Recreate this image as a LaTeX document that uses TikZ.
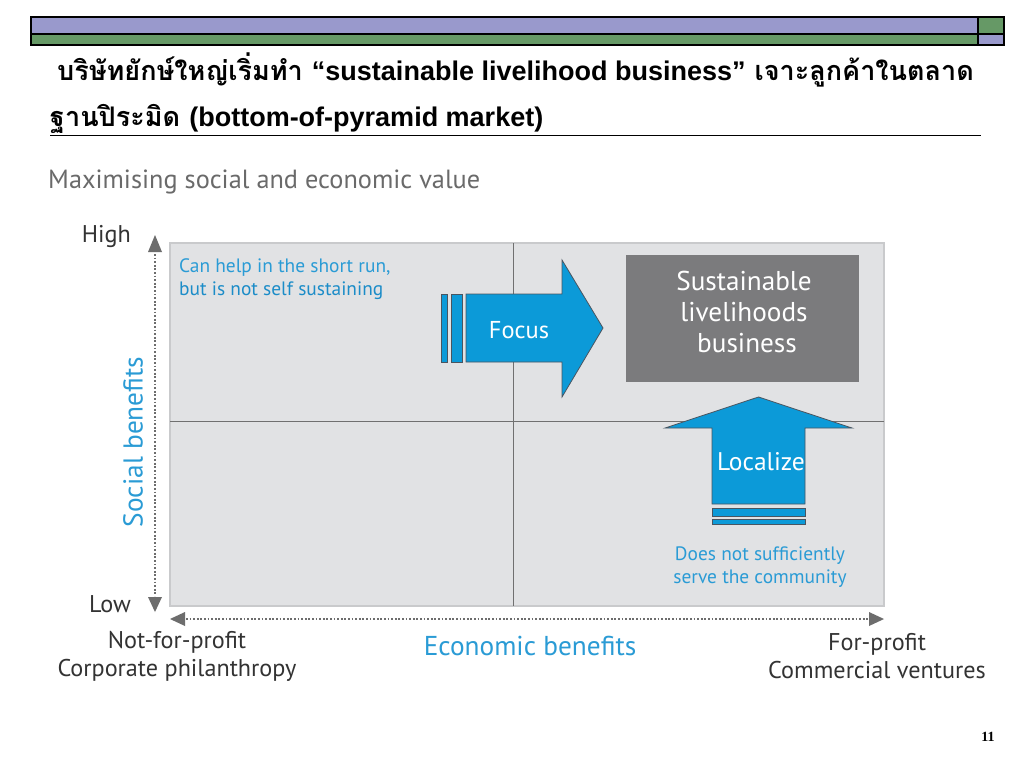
\documentclass[tikz,border=0pt]{standalone}
\usepackage{fontspec}
\setmainfont{PT Sans}
\newfontfamily\thaifont[Script=Thai]{Loma}
\newfontfamily\arialb{Liberation Sans}
\newfontfamily\serifnum{Liberation Serif}
\definecolor{barpurple}{HTML}{9999CC}
\definecolor{bargreen}{HTML}{669966}
\definecolor{gridfill}{HTML}{E1E2E4}
\definecolor{gridborder}{HTML}{C9CACC}
\definecolor{midline}{HTML}{707070}
\definecolor{boxgray}{HTML}{7B7B7D}
\definecolor{arrowblue}{HTML}{0C9AD8}
\definecolor{arrowedge}{HTML}{4A5560}
\definecolor{textblue}{HTML}{2A9BD5}
\definecolor{textblue2}{HTML}{1B8CC8}
\definecolor{axisgray}{HTML}{6D6D6D}
\definecolor{labeldark}{HTML}{333333}
\definecolor{subgray}{HTML}{6A6A6A}
\tikzset{
  bar/.style={draw=black,line width=1.2pt},
  bluearrow/.style={fill=arrowblue,draw=arrowedge,line width=0.8pt},
  axisdots/.style={axisgray,line width=2.8pt,dash pattern=on 1.8pt off 1.8pt},
  axistip/.style={fill=axisgray},
  axislabel/.style={text=labeldark,font=\fontsize{24.2}{28}\selectfont,align=center,inner sep=0pt},
  bluelabel/.style={text=textblue,font=\fontsize{27.3}{30}\selectfont,inner sep=0pt},
  note/.style={text=textblue,font=\fontsize{19.4}{23}\selectfont,align=left,inner sep=0pt},
  whitelabel/.style={text=white,inner sep=0pt},
}
\begin{document}
\begin{tikzpicture}[x=1pt,y=-1pt]
\useasboundingbox (0,0) rectangle (1024,768);
\fill[white] (0,0) rectangle (1024,768);
% header bars
\filldraw[bar,fill=barpurple] (31,17) rectangle (978,34);
\filldraw[bar,fill=bargreen] (31,34) rectangle (978,45);
\filldraw[bar,fill=bargreen] (978,17) rectangle (1004,34);
\filldraw[bar,fill=barpurple] (978,34) rectangle (1004,45);
% title
\node[anchor=base west,inner sep=0pt,font=\fontsize{27}{30}\selectfont] (title1) at (57,80)
  {\thaifont\bfseries บริษัทยักษ์ใหญ่เริ่มทำ {\arialb\bfseries “sustainable livelihood business”} เจาะลูกค้าในตลาด};
\node[anchor=base west,inner sep=0pt,font=\fontsize{27}{30}\selectfont] (title2) at (50,126)
  {\thaifont\bfseries ฐานปิระมิด {\arialb\bfseries (bottom-of-pyramid market)}};
\draw[line width=1pt] (50,135) -- (981,135);
% subtitle
\node[anchor=west,inner sep=0pt,text=subgray,font=\fontsize{26.3}{30}\selectfont] (sub) at (48,182) {Maximising social and economic value};
% grid
\filldraw[fill=gridfill,draw=gridborder,line width=1.5pt] (170,243) rectangle (884,606);
\draw[midline,line width=0.8pt] (513,243) -- (513,606);
\draw[midline,line width=0.8pt] (170,421) -- (884,421);
% vertical axis
\coordinate (vtop) at (155,254);
\coordinate (vbot) at (155,596);
\draw[axisdots] (vtop) -- (vbot);
\fill[axistip] (155,235) -- (162,252) -- (148,252) -- cycle;
\fill[axistip] (155,612) -- (162,597) -- (148,597) -- cycle;
\node[axislabel,anchor=east] (high) at (131,236) {High};
\node[axislabel,anchor=east] (low) at (131,604) {Low};
\node[bluelabel,rotate=90] (social) at (133,442) {Social benefits};
% horizontal axis
\coordinate (hleft) at (186,619);
\coordinate (hright) at (868,619);
\draw[axisdots] (hleft) -- (hright);
\fill[axistip] (170,619) -- (185,612) -- (185,626) -- cycle;
\fill[axistip] (884,619) -- (869,612) -- (869,626) -- cycle;
\node[bluelabel] (econ) at (530,646) {Economic benefits};
\node[axislabel] (nfp) at (177,656) {Not-for-profit\\Corporate philanthropy};
\node[axislabel] (fp) at (877,656) {For-profit\\Commercial ventures};
% top-left note
\node[note,anchor=north west] (can) at (179,258) {Can help in the short run,\\{\color{textblue2}but is not self sustaining}};
% sustainable box
\node[fill=boxgray,minimum width=233pt,minimum height=127pt,inner sep=0pt] (slb) at (742.5,318.5) {};
\node[text=white,align=center,inner sep=0pt,font=\fontsize{27.2}{31}\selectfont] (slbtext) at (744,312)
      {Sustainable\\livelihoods\\\hspace*{6pt}business};
% focus arrow
\filldraw[bluearrow] (441,294) rectangle (447,362);
\filldraw[bluearrow] (451,294) rectangle (462,362);
\filldraw[bluearrow] (466,294) -- (562,294) -- (562,260) -- (603,328) -- (562,397) -- (562,362) -- (466,362) -- cycle;
\node[whitelabel,font=\fontsize{24.4}{28}\selectfont] (focus) at (519,330) {Focus};
% localize arrow
\filldraw[bluearrow] (712,504) -- (712,428) -- (665,428) -- (758.5,397) -- (852,428) -- (805,428) -- (805,504) -- cycle;
\filldraw[bluearrow] (712,508) rectangle (805,516);
\filldraw[bluearrow] (712,519) rectangle (805,524);
\node[whitelabel,font=\fontsize{25.5}{28}\selectfont] (loc) at (761,462) {Localize};
\node[note,align=center] (does) at (760,567) {Does not sufficiently\\serve the community};
% page number
\node[inner sep=0pt,font=\serifnum\bfseries\fontsize{14}{16}\selectfont] (pg) at (988,737) {11};
\end{tikzpicture}
\end{document}
